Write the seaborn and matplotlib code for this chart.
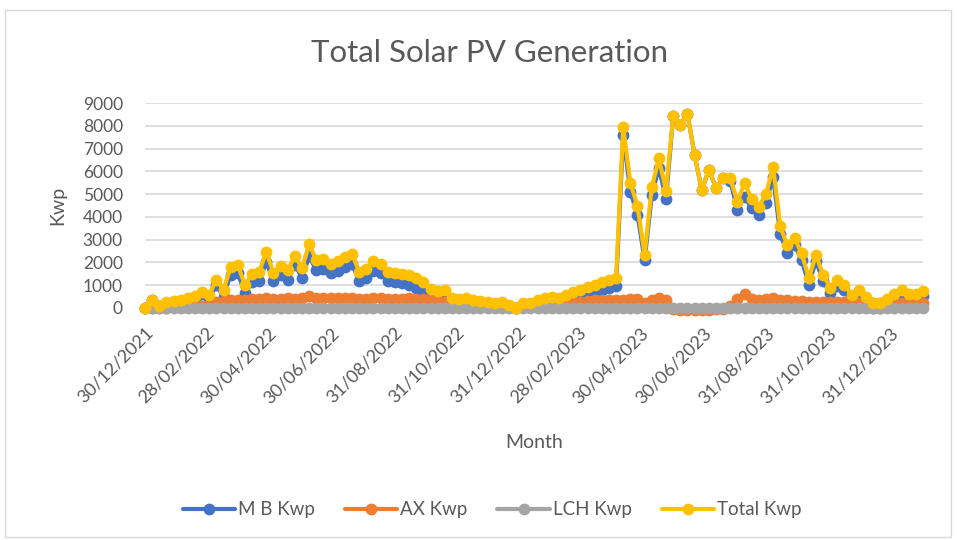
import matplotlib
matplotlib.use("Agg")
import matplotlib.pyplot as plt
from matplotlib.patches import Rectangle
from matplotlib.lines import Line2D
import seaborn as sns
import pandas as pd

# ---- data (weekly readings) ----
start_date = "2021-12-30"
n_weeks = 110

total_kwp = [0, 340, 100, 250, 290, 360, 440, 510, 700, 580,
             1250, 800, 1800, 1900, 1000, 1500, 1600, 2450, 1550, 1850,
             1650, 2300, 1750, 2800, 2100, 2150, 1950, 2050, 2250, 2380,
             1600, 1700, 2050, 1950, 1600, 1550, 1480, 1430, 1300, 1150,
             820, 750, 780, 420, 380, 450, 330, 300, 260, 220,
             250, 150, 0, 220, 220, 360, 420, 500, 420, 560,
             700, 800, 930, 1020, 1150, 1250, 1310, 7950, 5500, 4480,
             2340, 5300, 6570, 5150, 8420, 8050, 8520, 6720, 5180, 6060,
             5280, 5690, 5690, 4670, 5480, 4800, 4450, 5000, 6200, 3580,
             2750, 3070, 2410, 1310, 2340, 1460, 900, 1240, 1020, 560,
             800, 480, 220, 220, 400, 600, 800, 600, 620, 730]

ax_kwp = [0, 0, 0, 20, 30, 40, 60, 80, 100, 150,
          250, 300, 330, 360, 350, 380, 400, 430, 380, 400,
          420, 400, 420, 530, 450, 430, 420, 430, 450, 460,
          400, 400, 430, 420, 400, 400, 400, 420, 400, 400,
          380, 350, 250, 150, 120, 100, 100, 80, 80, 60,
          60, 50, 0, 60, 80, 100, 120, 130, 150, 180,
          220, 280, 320, 340, 350, 350, 330, 350, 400, 380,
          240, 350, 420, 350, -60, -80, -70, -90, -80, -70,
          -60, -30, 100, 380, 600, 400, 350, 380, 450, 350,
          330, 300, 300, 280, 280, 270, 260, 260, 250, 250,
          240, 240, 220, 220, 200, 200, 200, 200, 200, 200]

mb_kwp = [0, 340, 100, 230, 260, 320, 380, 430, 600, 430,
          1000, 500, 1470, 1540, 650, 1120, 1200, 2020, 1170, 1450,
          1230, 1900, 1330, 2270, 1650, 1720, 1530, 1620, 1800, 1920,
          1200, 1300, 1620, 1530, 1200, 1150, 1080, 1010, 900, 750,
          440, 400, 530, 270, 260, 350, 230, 220, 180, 160,
          190, 100, 0, 160, 140, 260, 300, 370, 270, 380,
          480, 520, 610, 680, 800, 900, 980, 7600, 5100, 4100,
          2100, 4950, 6150, 4800, 8420, 8050, 8520, 6720, 5180, 6060,
          5280, 5690, 5590, 4290, 4880, 4400, 4100, 4620, 5750, 3230,
          2420, 2770, 2110, 1030, 2060, 1190, 640, 980, 770, 310,
          560, 240, 0, 0, 200, 400, 600, 400, 420, 530]

lch_kwp = [0] * n_weeks

tick_labels = ["30/12/2021", "28/02/2022", "30/04/2022", "30/06/2022",
               "31/08/2022", "31/10/2022", "31/12/2022", "28/02/2023",
               "30/04/2023", "30/06/2023", "31/08/2023", "31/10/2023",
               "31/12/2023"]

series_names = ["M B Kwp", "AX Kwp", "LCH Kwp", "Total Kwp"]
series_colors = ["#4472C4", "#ED7D31", "#A5A5A5", "#FFC000"]

dates = pd.date_range(start_date, periods=n_weeks, freq="7D")
df = pd.DataFrame({"Month": dates,
                   "M B Kwp": mb_kwp, "AX Kwp": ax_kwp,
                   "LCH Kwp": lch_kwp, "Total Kwp": total_kwp})
long = df.melt(id_vars="Month", var_name="Series", value_name="Kwp")

# ---- figure ----
sns.set_theme(style="white")
plt.rcParams["font.family"] = ["Lato", "DejaVu Sans"]
W, H = 957, 540
fig = plt.figure(figsize=(W / 100, H / 100), dpi=100)
fig.patch.set_facecolor("white")

# chart border
fig.patches.append(Rectangle((5 / W, 3 / H), 946 / W, 527 / H,
                             transform=fig.transFigure, fill=False,
                             edgecolor="#D9D9D9", linewidth=1.0))

left, right, top, bottom = 145, 923, 103, 308
ax = fig.add_axes([left / W, 1 - bottom / H, (right - left) / W, (bottom - top) / H])

LW, MS = 3.0, 8.5
sns.lineplot(data=long, x="Month", y="Kwp", hue="Series",
             hue_order=series_names, palette=series_colors,
             marker="o", markersize=MS, markeredgewidth=0,
             linewidth=LW, ax=ax, legend=False, clip_on=False)

for ln in ax.lines:
    ln.set_clip_on(False)

ax.set_ylim(0, 9000)
ax.set_yticks(range(0, 9001, 1000))
ax.set_xlim(dates[0], dates[-1])
tick_pos = pd.to_datetime(tick_labels, format="%d/%m/%Y")
ax.set_xticks(tick_pos)
ax.set_xticklabels(tick_labels, rotation=45, ha="right", rotation_mode="anchor",
                   fontsize=13, color="#595959")
ax.tick_params(axis="y", labelsize=12.5, labelcolor="#595959", length=0, pad=16)
ax.tick_params(axis="x", length=0, pad=12)
ax.grid(axis="y", color="#D9D9D9", linewidth=1.2)
ax.set_axisbelow(True)
for s in ax.spines.values():
    s.set_visible(False)

ax.set_ylabel("Kwp", fontsize=14, color="#595959", labelpad=12)
ax.set_xlabel("Month", fontsize=14, color="#595959", labelpad=20)

fig.text(490 / W, 1 - 53 / H, "Total Solar PV Generation", ha="center", va="center",
         fontsize=22.5, color="#595959")

handles = [Line2D([0], [0], color=c, lw=LW, marker="o", markersize=MS,
                  markeredgewidth=0) for c in series_colors]
fig.legend(handles, series_names, loc="center", bbox_to_anchor=(492 / W, 1 - 510 / H),
           ncol=4, frameon=False, fontsize=13.5, labelcolor="#595959",
           handlelength=2.8, handletextpad=0.15, columnspacing=1.6)

fig.savefig("out.png", dpi=100, facecolor="white")
